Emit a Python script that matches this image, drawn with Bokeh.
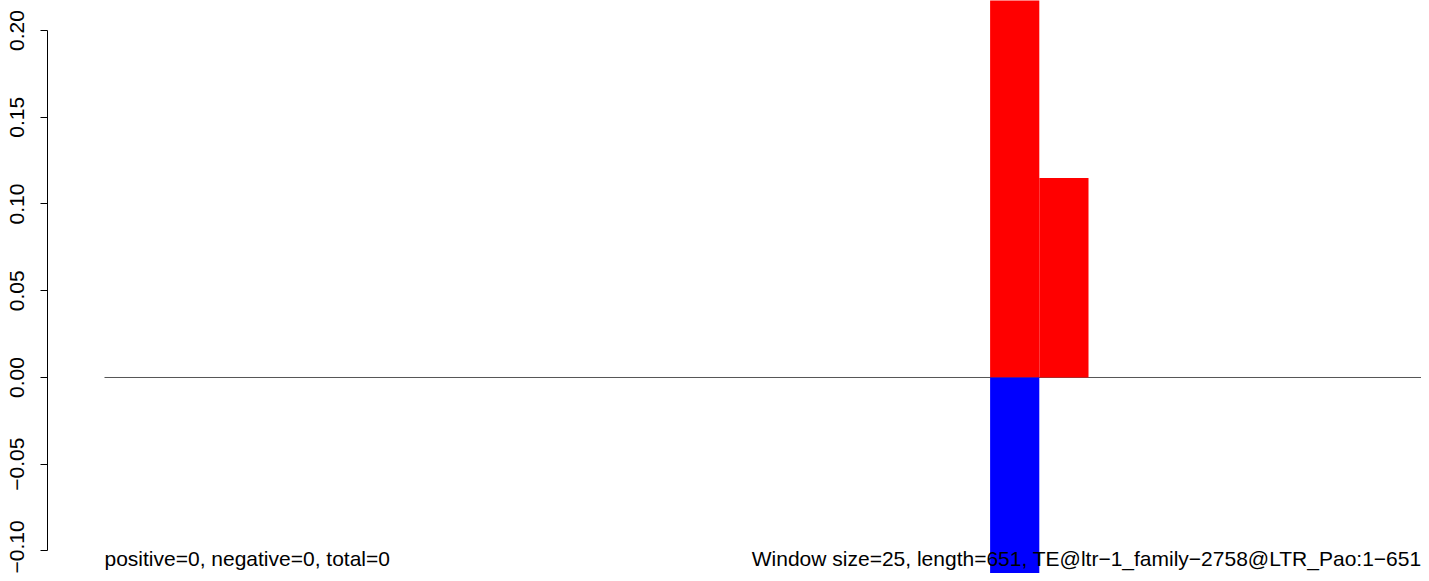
from bokeh.plotting import figure
from bokeh.models import Range1d, FixedTicker, CustomJSTickFormatter, ColumnDataSource
from bokeh.core.properties import value
from bokeh.embed import file_html
from bokeh.resources import INLINE

# ---- data ----
n_windows = 27
pos_windows = [18, 19]          # window index (0-based), window size 25
pos_values = [0.23, 0.115]
neg_windows = [18]
neg_values = [-0.115]
y_ticks = [-0.10, -0.05, 0.00, 0.05, 0.10, 0.15, 0.20]
texts_left = ["positive=0, negative=0, total=0"]
texts_right = ["Window size=25, length=651, TE@ltr\u22121_family\u22122758@LTR_Pao:1\u2212651"]

FONT = "Liberation Sans"
x_start, x_end = -1.1585, 26.768
y_start, y_end = -0.11297, 0.21729
text_y = -0.1108

p = figure(width=1421, height=573, output_backend="svg", toolbar_location=None,
           x_range=Range1d(x_start, x_end), y_range=Range1d(y_start, y_end),
           x_axis_type=None, min_border_left=47, min_border_right=0,
           min_border_top=0, min_border_bottom=0)
p.outline_line_color = None
p.grid.visible = False
p.background_fill_color = "white"

ax = p.yaxis[0]
ax.bounds = (-0.10, 0.20)
ax.ticker = FixedTicker(ticks=y_ticks, minor_ticks=[])
ax.formatter = CustomJSTickFormatter(code="return tick.toFixed(2).replace('-', '\u2212');")
ax.major_tick_in = 0
ax.major_tick_out = 7
ax.minor_tick_in = 0
ax.minor_tick_out = 0
ax.axis_line_color = "black"
ax.axis_line_width = 1
ax.major_tick_line_color = "black"
ax.major_label_orientation = "vertical"
ax.major_label_standoff = 16
ax.major_label_text_font = FONT
ax.major_label_text_font_size = "21px"
ax.major_label_text_color = "black"

# zero line across windows
p.line(x=[0, n_windows], y=[0, 0], line_color="#555555", line_width=1)

pos_src = ColumnDataSource(dict(left=pos_windows, right=[w + 1 for w in pos_windows],
                                top=pos_values, bottom=[0] * len(pos_values)))
p.quad(left="left", right="right", top="top", bottom="bottom", source=pos_src,
       fill_color="#FF0000", line_color=None)
neg_src = ColumnDataSource(dict(left=neg_windows, right=[w + 1 for w in neg_windows],
                                top=[0] * len(neg_values), bottom=neg_values))
p.quad(left="left", right="right", top="top", bottom="bottom", source=neg_src,
       fill_color="#0000FF", line_color=None)

p.text(x=[0], y=[text_y], text=texts_left, text_font=value(FONT),
       text_font_size=value("21px"), text_color="black",
       text_align="left", text_baseline="bottom")
p.text(x=[x_end], y=[text_y], text=texts_right, text_font=value(FONT),
       text_font_size=value("21px"), text_color="black",
       text_align="right", text_baseline="bottom")

open("out.html", "w").write(file_html(p, INLINE))
